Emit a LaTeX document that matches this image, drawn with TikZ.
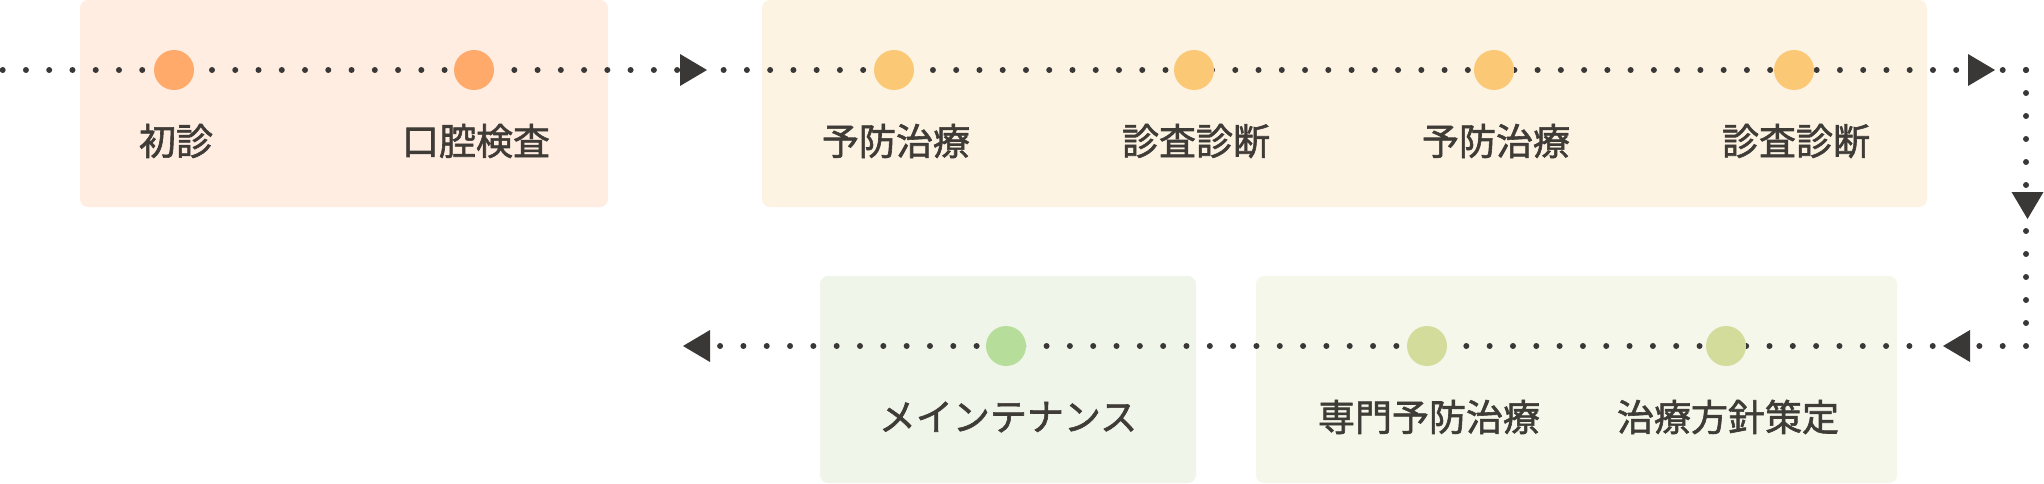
\documentclass[tikz,border=0pt]{standalone}
\usepackage{fontspec}
\newfontfamily\jp[FakeBold=1.6]{Noto Sans CJK JP}
\definecolor{boxA}{HTML}{FFEDE2}
\definecolor{dotA}{HTML}{FFA96B}
\definecolor{boxB}{HTML}{FDF3E3}
\definecolor{dotB}{HTML}{FBC876}
\definecolor{boxC}{HTML}{EFF6E9}
\definecolor{dotC}{HTML}{B6DD9A}
\definecolor{boxD}{HTML}{F5F7EB}
\definecolor{dotD}{HTML}{D3DC9B}
\definecolor{ink}{HTML}{3A3837}
\definecolor{txt}{HTML}{3F3B37}
\begin{document}
\begin{tikzpicture}[x=1pt,y=-1pt,
  panel/.style={fill=#1, rounded corners=8pt},
  marker/.style={circle, fill=#1, minimum size=40pt, inner sep=0pt},
  lbl/.style={font=\jp\fontsize{37pt}{40pt}\selectfont, text=txt, inner sep=0pt, anchor=center},
  dotline/.style={ink, line width=6pt, line cap=round, dash pattern=on 0pt off #1},
  tip/.style={fill=ink}]
\useasboundingbox (0,0) rectangle (2044,484);
% panels
\fill[panel=boxA] (80,0) rectangle (608,207);
\fill[panel=boxB] (762,0) rectangle (1927,207);
\fill[panel=boxC] (820,276) rectangle (1196,483);
\fill[panel=boxD] (1256,276) rectangle (1897,483);
% path coordinates
\coordinate (s) at (2.7,70);
\coordinate (c1) at (2026,70);
\coordinate (c2) at (2026,346);
\coordinate (e) at (718,346);
\draw[dotline=23.256pt] (s) -- (c1);
\draw[dotline=23pt] (c1) -- (c2);
\draw[dotline=23.32pt] (c2) -- (e);
% arrowheads
\coordinate (t1) at (707,70);
\coordinate (t2) at (1995,70);
\coordinate (t3) at (2027.5,219);
\coordinate (t4) at (1943,346);
\coordinate (t5) at (683,346);
\fill[tip] (t1) -- ++(-27,-16) -- ++(0,32) -- cycle;
\fill[tip] (t2) -- ++(-27,-16) -- ++(0,32) -- cycle;
\fill[tip] (t3) -- ++(-16,-27) -- ++(32,0) -- cycle;
\fill[tip] (t4) -- ++(27,-16) -- ++(0,32) -- cycle;
\fill[tip] (t5) -- ++(27,-16) -- ++(0,32) -- cycle;
% markers
\node[marker=dotA] (m1) at (174,70) {};
\node[marker=dotA] (m2) at (474,70) {};
\node[marker=dotB] (m3) at (894,70) {};
\node[marker=dotB] (m4) at (1194,70) {};
\node[marker=dotB] (m5) at (1494,70) {};
\node[marker=dotB] (m6) at (1794,70) {};
\node[marker=dotC] (m7) at (1006,346) {};
\node[marker=dotD] (m8) at (1427,346) {};
\node[marker=dotD] (m9) at (1726,346) {};
% labels
\node[lbl] (l1) at (176,141) {初診};
\node[lbl] (l2) at (476,141) {口腔検査};
\node[lbl] (l3) at (896,141) {予防治療};
\node[lbl] (l4) at (1196,141) {診査診断};
\node[lbl] (l5) at (1496,141) {予防治療};
\node[lbl] (l6) at (1796,141) {診査診断};
\node[lbl] (l7) at (1008,417) {メインテナンス};
\node[lbl] (l8) at (1429,417) {専門予防治療};
\node[lbl] (l9) at (1728,417) {治療方針策定};
\end{tikzpicture}
\end{document}
